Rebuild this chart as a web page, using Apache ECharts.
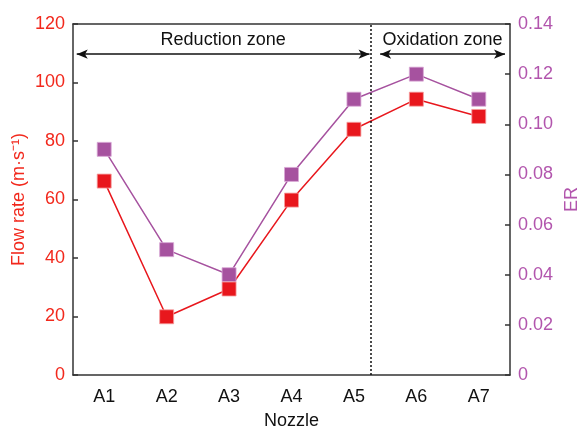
<!DOCTYPE html>
<html><head><meta charset="utf-8">
<script src="https://cdn.jsdelivr.net/npm/echarts@6/dist/echarts.min.js"></script>
<style>html,body{margin:0;padding:0;background:#fff}#c{width:577px;height:431px}</style>
</head><body><div id="c"></div>
<script>
var categories = ['A1','A2','A3','A4','A5','A6','A7'];
var flowRate = [66.3, 19.9, 29.4, 59.8, 84.0, 94.3, 88.4];
var erValues = [0.09, 0.05, 0.04, 0.08, 0.11, 0.12, 0.11];
var flowTicks = [0, 20, 40, 60, 80, 100, 120];
var erTicks = [0, 0.02, 0.04, 0.06, 0.08, 0.10, 0.12, 0.14];
// zone annotations (category-index units on a helper axis)
var zoneBoundary = 4.27;
var zones = [
  {name: 'Reduction zone', from: -0.44, to: 4.25},
  {name: 'Oxidation zone', from: 4.42, to: 6.42}
];
var arrowLevel = 109.7;

var RED = '#e8171d', RED_TXT = '#f2281c', PUR = '#a6529f', PUR_TXT = '#b255ad', AX = '#333';
var FONT = "'Liberation Sans', Arial, sans-serif";
var chart = echarts.init(document.getElementById('c'));
var axStyle = {onZero: false, lineStyle: {color: AX, width: 1.5}};
chart.setOption({
  animation: false,
  grid: {left: 73, right: 67, top: 24, bottom: 56, containLabel: false, outerBoundsMode: 'none'},
  xAxis: [{
    type: 'category', data: categories, boundaryGap: true,
    name: 'Nozzle', nameLocation: 'middle', nameGap: 37, nameMoveOverlap: false,
    nameTextStyle: {fontFamily: FONT, fontSize: 18, color: '#111'},
    axisLine: axStyle, axisTick: {inside: true, length: 5, alignWithLabel: true, lineStyle: {color: AX, width: 1.5}},
    axisLabel: {fontFamily: FONT, fontSize: 18, color: '#111', margin: 13},
    splitLine: {show: false}
  }, {
    type: 'value', position: 'top', min: -0.5, max: 6.5,
    axisLine: {show: true, onZero: false, lineStyle: {color: AX, width: 1.5}},
    axisTick: {show: false}, axisLabel: {show: false}, splitLine: {show: false}
  }],
  yAxis: [{
    type: 'value', min: 0, max: 120, interval: 20, position: 'left',
    name: 'Flow rate (m·s⁻¹)', nameLocation: 'middle', nameGap: 45, nameMoveOverlap: false,
    nameTextStyle: {fontFamily: FONT, fontSize: 18, color: RED_TXT},
    axisLine: {show: true, onZero: false, lineStyle: {color: AX, width: 1.5}},
    axisTick: {show: true, inside: true, length: 5, lineStyle: {color: AX, width: 1.5}},
    axisLabel: {fontFamily: FONT, fontSize: 18, color: RED_TXT, margin: 8},
    splitLine: {show: false}
  }, {
    type: 'value', min: 0, max: 0.14, interval: 0.02, position: 'right',
    name: 'ER', nameLocation: 'middle', nameGap: 53, nameMoveOverlap: false,
    nameTextStyle: {fontFamily: FONT, fontSize: 18, color: PUR_TXT},
    axisLine: {show: true, onZero: false, lineStyle: {color: AX, width: 1.5}},
    axisTick: {show: true, inside: true, length: 5, lineStyle: {color: AX, width: 1.5}},
    axisLabel: {fontFamily: FONT, fontSize: 18, color: PUR_TXT, margin: 8,
      formatter: function (v) { return v === 0 ? '0' : v.toFixed(2); }},
    splitLine: {show: false}
  }],
  series: [{
    name: 'ER', type: 'line', xAxisIndex: 0, yAxisIndex: 1, data: erValues,
    symbol: 'rect', symbolSize: 14,
    lineStyle: {color: PUR, width: 1.5},
    itemStyle: {color: PUR, borderColor: '#d9a8d6', borderWidth: 0.8}
  }, {
    name: 'Flow rate', type: 'line', xAxisIndex: 0, yAxisIndex: 0, data: flowRate,
    symbol: 'rect', symbolSize: 14,
    lineStyle: {color: RED, width: 1.5},
    itemStyle: {color: RED, borderColor: '#f5a0a0', borderWidth: 0.8}
  }, {
    name: 'zones', type: 'line', xAxisIndex: 1, yAxisIndex: 0, data: [], silent: true,
    markLine: {
      silent: true, animation: false,
      data: [
        [{coord: [zoneBoundary, 0], symbol: 'none', lineStyle: {type: [2, 2], color: '#111', width: 1.5}},
         {coord: [zoneBoundary, 120], symbol: 'none'}]
      ].concat(zones.map(function (z) {
        return [{coord: [z.from, arrowLevel], symbol: 'arrow', symbolSize: [7, 11],
                 lineStyle: {type: 'solid', color: '#111', width: 1.5},
                 label: {show: true, position: 'middle', formatter: z.name, fontFamily: FONT, fontSize: 18, color: '#111', distance: 5}},
                {coord: [z.to, arrowLevel], symbol: 'arrow', symbolSize: [7, 11]}];
      }))
    }
  }]
});
</script></body></html>
